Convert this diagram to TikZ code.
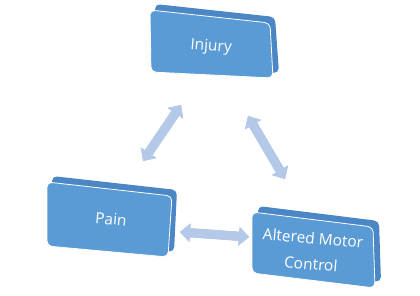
\documentclass[tikz,border=0pt]{standalone}
\usepackage{fontspec}
\setmainfont{Open Sans}
\usetikzlibrary{arrows.meta}
\definecolor{faceblue}{HTML}{5B9BD5}
\definecolor{slabblue}{HTML}{4A87C4}
\definecolor{arrowblue}{HTML}{B4C8E8}
\definecolor{arrowedge}{HTML}{9DB6DE}
\tikzset{
  face/.style={fill=faceblue, draw=white, line width=0.8pt, rounded corners=5pt},
  slab/.style={fill=slabblue, rounded corners=5pt},
  lbl/.style={text=white, font=\fontsize{15.5}{26}\selectfont, align=center, rotate=-5, inner sep=0pt},
  arr/.style={line width=9pt, draw=arrowblue, {Triangle[width=18pt,length=10pt]}-{Triangle[width=18pt,length=10pt]}},
  arredge/.style={line width=9pt, draw=arrowedge, {Triangle[width=18pt,length=10pt]}-{Triangle[width=18pt,length=10pt]}},
}
\begin{document}
\begin{tikzpicture}[x=1pt,y=-1pt]
\useasboundingbox (0,0) rectangle (420,295);
% Injury box
\fill[slab] (155,4) -- (275,17) -- (279,73) -- (156,67) -- cycle;
\path[face] (150,10) -- (270,23) -- (273,78) -- (151,72) -- cycle;
\node[lbl] (injury) at (211,47) {Injury};
% Pain box
\fill[slab] (52,176) -- (177,190) -- (174,252) -- (52,241) -- cycle;
\path[face] (47,182) -- (172,196) -- (168,257) -- (47,246) -- cycle;
\node[lbl] (pain) at (111,219) {Pain};
% Altered Motor Control box
\fill[slab] (258,206) -- (379,221) -- (381,282) -- (258,266) -- cycle;
\path[face] (252,212) -- (373,227) -- (375,288) -- (252,273) -- cycle;
\node[lbl] (amc) at (312,251) {Altered Motor\\Control};
% arrow end points
\coordinate (a1) at (181,105);
\coordinate (b1) at (143,161);
\coordinate (a2) at (248,116);
\coordinate (b2) at (285,179);
\coordinate (a3) at (180,232);
\coordinate (b3) at (249,237);
\begin{scope}[shift={(2,1)}]
\draw[arredge] (a1) -- (b1);
\draw[arredge] (a2) -- (b2);
\draw[arredge] (a3) -- (b3);
\end{scope}
\draw[arr] (a1) -- (b1);
\draw[arr] (a2) -- (b2);
\draw[arr] (a3) -- (b3);
\end{tikzpicture}
\end{document}
